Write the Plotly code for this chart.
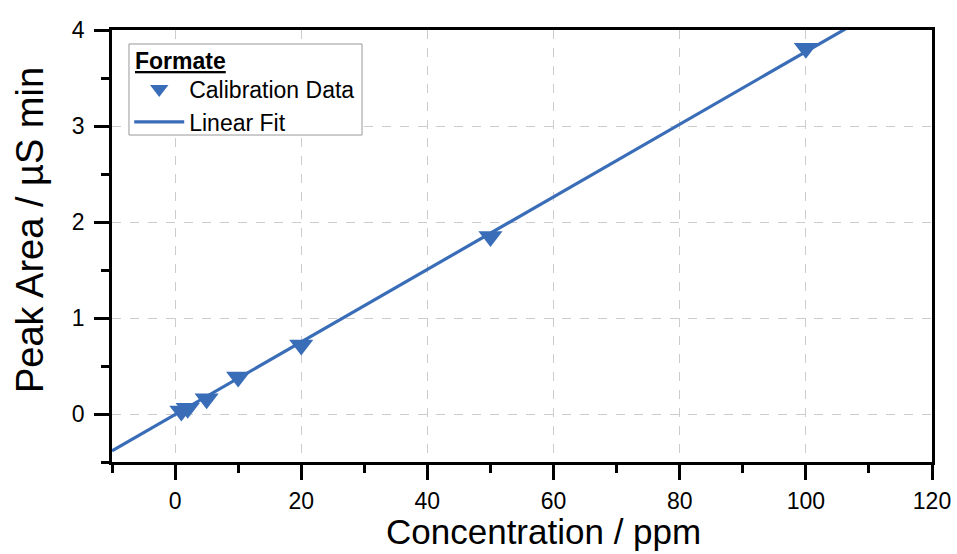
import plotly.graph_objects as go

# Data
conc_ppm = [1, 2, 5, 10, 20, 50, 100]
peak_area = [0.03, 0.06, 0.16, 0.385, 0.72, 1.85, 3.81]

fit_x = [-10, 120]
fit_y = [-0.384, 4.53]

x_ticks = [0, 20, 40, 60, 80, 100, 120]
y_ticks = [0, 1, 2, 3, 4]

x_title = "Concentration / ppm"
y_title = "Peak Area / µS min"
legend_title = "Formate"

blue = "#3a6db8"
font_family = "Liberation Sans, Arial, sans-serif"

fig = go.Figure()
fig.add_trace(go.Scatter(
    x=fit_x, y=fit_y, mode="lines", name="Linear Fit",
    line=dict(color=blue, width=3.2), legendrank=2
))
fig.add_trace(go.Scatter(
    x=conc_ppm, y=peak_area, mode="markers", name="Calibration Data",
    marker=dict(symbol="triangle-down", size=21, color=blue), legendrank=1
))

axis_common = dict(
    showline=True, linecolor="black", linewidth=2.5, mirror=True,
    ticks="outside", ticklen=15, tickwidth=2.5, tickcolor="black",
    showgrid=True, gridcolor="#cccccc", gridwidth=1.2, griddash="dash",
    zeroline=False, automargin=False,
    tickfont=dict(size=23, color="black", family=font_family),
)

fig.update_xaxes(
    range=[-10, 120], tickmode="array", tickvals=x_ticks, ticklabelstandoff=2,
    minor=dict(dtick=10, tick0=0, ticklen=8, tickwidth=2.5, tickcolor="black", ticks="outside", showgrid=False),
    **axis_common,
)
fig.update_yaxes(
    range=[-0.5, 4], tickmode="array", tickvals=y_ticks, ticklabelstandoff=5,
    minor=dict(dtick=0.5, tick0=0, ticklen=8, tickwidth=2.5, tickcolor="black", ticks="outside", showgrid=False),
    **axis_common,
)

fig.add_annotation(
    text=x_title, xref="paper", yref="paper", x=0.5268, y=-0.111,
    xanchor="center", yanchor="top", showarrow=False,
    font=dict(size=35, color="black", family=font_family),
)
fig.add_annotation(
    text=y_title, xref="paper", yref="paper", x=-0.1, y=0.537,
    xanchor="center", yanchor="middle", textangle=-90, showarrow=False,
    font=dict(size=38, color="black", family=font_family),
)

# legend frame and title
fig.add_shape(
    type="rect", xref="paper", yref="paper", x0=0.0207, x1=0.3049, y0=0.7569, y1=0.9676,
    fillcolor="white", line=dict(color="#999999", width=1), layer="above",
)
fig.add_annotation(
    text="<b><u>" + legend_title + "</u></b>", xref="paper", yref="paper", x=0.0256, y=0.9282,
    xanchor="left", yanchor="middle", showarrow=False,
    font=dict(size=23, color="black", family=font_family),
)

fig.update_layout(
    width=957, height=554,
    margin=dict(l=112, r=25, t=30, b=92),
    plot_bgcolor="white", paper_bgcolor="white",
    font=dict(family=font_family, color="black"),
    legend=dict(
        x=0.021, y=0.913, xanchor="left", yanchor="top",
        bgcolor="rgba(0,0,0,0)", borderwidth=0,
        font=dict(size=23, color="black", family=font_family),
        tracegroupgap=0, itemwidth=50,
    ),
)

fig.write_html("out.html")
